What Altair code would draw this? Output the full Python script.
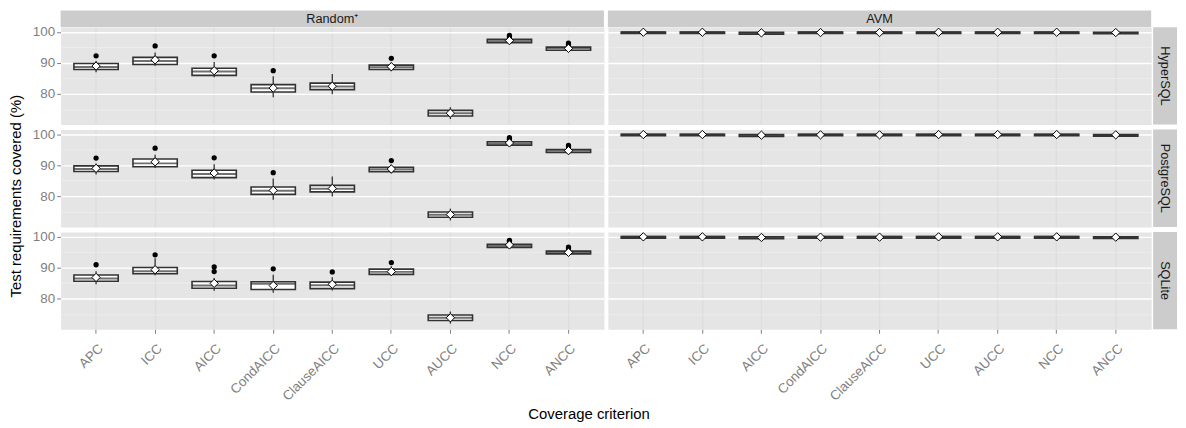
import altair as alt
import pandas as pd

criteria = ["APC", "ICC", "AICC", "CondAICC", "ClauseAICC", "UCC", "AUCC", "NCC", "ANCC"]
methods = ["Random⁺", "AVM"]
databases = ["HyperSQL", "PostgreSQL", "SQLite"]

# Random+ / HyperSQL
rh_lo = [87.0, 89.1, 85.4, 78.9, 79.9, 87.3, 71.9, 96.2, 93.8]
rh_q1 = [87.9, 89.5, 86.0, 80.6, 81.4, 87.9, 72.9, 96.5, 94.1]
rh_med = [88.7, 90.6, 87.2, 81.8, 82.4, 88.6, 73.8, 97.0, 94.7]
rh_q3 = [89.8, 91.8, 88.3, 83.0, 83.5, 89.3, 74.7, 97.6, 95.1]
rh_hi = [90.6, 93.4, 90.3, 85.7, 86.4, 90.2, 75.7, 97.9, 95.5]
rh_mean = [89.0, 91.0, 87.5, 81.9, 82.5, 88.8, 73.8, 97.2, 94.7]
rh_out_crit = ["APC", "ICC", "AICC", "CondAICC", "UCC", "NCC", "NCC", "ANCC", "ANCC"]
rh_out_val = [92.3, 95.5, 92.3, 87.5, 91.5, 98.4, 98.9, 95.9, 96.4]

# Random+ / PostgreSQL
rp_lo = [87.0, 89.1, 85.4, 78.9, 79.9, 87.3, 72.2, 96.2, 93.8]
rp_q1 = [88.0, 89.5, 86.0, 80.6, 81.4, 87.9, 73.2, 96.5, 94.1]
rp_med = [88.8, 90.6, 87.2, 81.8, 82.4, 88.6, 74.0, 97.0, 94.7]
rp_q3 = [89.8, 92.0, 88.4, 83.0, 83.5, 89.3, 74.9, 97.6, 95.1]
rp_hi = [90.6, 93.4, 90.3, 85.7, 86.4, 90.2, 76.0, 97.9, 95.5]
rp_mean = [89.0, 91.1, 87.5, 81.9, 82.5, 88.8, 74.1, 97.2, 94.7]
rp_out_crit = ["APC", "ICC", "AICC", "CondAICC", "UCC", "NCC", "NCC", "ANCC", "ANCC"]
rp_out_val = [92.3, 95.5, 92.4, 87.6, 91.5, 98.4, 98.9, 95.9, 96.4]

# Random+ / SQLite
rs_lo = [84.6, 87.5, 82.5, 81.9, 82.6, 87.3, 71.9, 96.2, 94.0]
rs_q1 = [85.6, 88.0, 83.3, 82.9, 83.2, 87.8, 72.9, 96.5, 94.4]
rs_med = [86.5, 88.8, 84.2, 84.8, 84.3, 88.6, 73.8, 97.0, 94.9]
rs_q3 = [87.6, 90.0, 85.5, 85.4, 85.3, 89.5, 74.7, 97.5, 95.3]
rs_hi = [88.8, 93.0, 86.6, 87.7, 86.9, 90.4, 75.8, 97.9, 95.7]
rs_mean = [86.8, 89.3, 84.9, 84.2, 84.6, 88.7, 73.8, 97.3, 94.9]
rs_out_crit = ["APC", "ICC", "AICC", "AICC", "CondAICC", "ClauseAICC", "UCC", "NCC", "NCC", "ANCC", "ANCC"]
rs_out_val = [90.9, 94.1, 88.7, 90.2, 89.6, 88.6, 91.6, 98.4, 98.8, 96.0, 96.6]

# AVM (same for all databases)
avm_lo = [99.5, 99.5, 99.3, 99.5, 99.5, 99.5, 99.5, 99.5, 99.4]
avm_q1 = [99.5, 99.5, 99.3, 99.5, 99.5, 99.5, 99.5, 99.5, 99.4]
avm_med = [99.9, 99.9, 99.6, 99.9, 99.9, 99.9, 99.9, 99.9, 99.7]
avm_q3 = [100.0, 100.0, 99.9, 100.0, 100.0, 100.0, 100.0, 100.0, 99.9]
avm_hi = [100.0, 100.0, 99.9, 100.0, 100.0, 100.0, 100.0, 100.0, 99.9]
avm_mean = [99.9, 99.9, 99.7, 99.8, 99.8, 99.9, 99.9, 99.9, 99.8]

box_sets = [
    ("Random⁺", "HyperSQL", rh_lo, rh_q1, rh_med, rh_q3, rh_hi, rh_mean),
    ("Random⁺", "PostgreSQL", rp_lo, rp_q1, rp_med, rp_q3, rp_hi, rp_mean),
    ("Random⁺", "SQLite", rs_lo, rs_q1, rs_med, rs_q3, rs_hi, rs_mean),
    ("AVM", "HyperSQL", avm_lo, avm_q1, avm_med, avm_q3, avm_hi, avm_mean),
    ("AVM", "PostgreSQL", avm_lo, avm_q1, avm_med, avm_q3, avm_hi, avm_mean),
    ("AVM", "SQLite", avm_lo, avm_q1, avm_med, avm_q3, avm_hi, avm_mean),
]
out_sets = [
    ("Random⁺", "HyperSQL", rh_out_crit, rh_out_val),
    ("Random⁺", "PostgreSQL", rp_out_crit, rp_out_val),
    ("Random⁺", "SQLite", rs_out_crit, rs_out_val),
]

rows = []
for m, d, lo, q1, med, q3, hi, mn in box_sets:
    for i, c in enumerate(criteria):
        rows.append(dict(kind="box", method=m, db=d, crit=c, lo=lo[i], q1=q1[i],
                         med=med[i], q3=q3[i], hi=hi[i], mean=mn[i], value=None,
                         anchor=(i == 0)))
for m, d, cs, vs in out_sets:
    for c, v in zip(cs, vs):
        rows.append(dict(kind="out", method=m, db=d, crit=c, value=v, anchor=False))
df = pd.DataFrame(rows)

W, H = 547, 98
FONT = "Liberation Sans"
major = "datum.value % 10 === 0"
DARK = "#333333"

yaxis = alt.Axis(
    title=None, values=[75, 80, 85, 90, 95, 100],
    labelExpr="datum.value % 10 === 0 ? datum.label : ''",
    gridWidth={"condition": {"test": major, "value": 1.4}, "value": 0.6},
    gridColor={"condition": {"test": major, "value": "#FFFFFF"}, "value": "#F2F2F2"},
    tickOpacity={"condition": {"test": major, "value": 1}, "value": 0},
    tickSize=4, labelPadding=2, grid=True,
)
yscale = alt.Scale(domain=[70.1, 101.5], nice=False, zero=False)
xenc = alt.X("crit:N", sort=criteria,
             scale=alt.Scale(paddingInner=0.25, paddingOuter=0.225),
             axis=alt.Axis(title=None, labelAngle=315, labelAlign="right",
                           labelBaseline="top", tickSize=4, labelPadding=8,
                           grid=True, gridWidth=1.4, bandPosition=0.5))

base = alt.Chart()
isbox = alt.datum.kind == "box"

whisk = base.transform_filter(isbox).mark_rule(color=DARK, strokeWidth=1.3).encode(
    x=xenc, y=alt.Y("lo:Q", scale=yscale, axis=yaxis), y2="hi:Q")
box = base.transform_filter(isbox).mark_bar(fill="white", stroke=DARK, strokeWidth=1.6).encode(
    x=xenc, y=alt.Y("q1:Q", scale=yscale, axis=yaxis), y2="q3:Q")
median = base.transform_filter(isbox).mark_tick(color=DARK, thickness=2, size=44.6).encode(
    x=xenc, y=alt.Y("med:Q", scale=yscale, axis=yaxis))
outl = base.transform_filter(alt.datum.kind == "out").mark_circle(color="black", size=28, opacity=1).encode(
    x=xenc, y=alt.Y("value:Q", scale=yscale, axis=yaxis))
meanpt = base.transform_filter(isbox).mark_point(shape="diamond", filled=True, fill="white",
                                                  stroke="black", strokeWidth=1, size=70, opacity=1).encode(
    x=xenc, y=alt.Y("mean:Q", scale=yscale, axis=yaxis))

top_f = "datum.anchor && datum.db === 'HyperSQL'"
right_f = "datum.anchor && datum.method === 'AVM'"
top_rect = base.transform_filter(top_f).mark_rect(color="#CCCCCC").encode(
    x=alt.value(0), x2=alt.value(W), y=alt.value(-17), y2=alt.value(0))
top_text = base.transform_filter(top_f).mark_text(font=FONT, fontSize=12.8, color="#1A1A1A",
                                                  baseline="middle").encode(
    x=alt.value(W / 2), y=alt.value(-8), text="method:N")
right_rect = base.transform_filter(right_f).mark_rect(color="#CCCCCC").encode(
    x=alt.value(W + 2), x2=alt.value(W + 26), y=alt.value(0), y2=alt.value(H))
right_text = base.transform_filter(right_f).mark_text(font=FONT, fontSize=12.8, color="#1A1A1A",
                                                      angle=90, baseline="middle").encode(
    x=alt.value(W + 14), y=alt.value(H / 2), text="db:N")
ytitle = base.transform_filter("datum.anchor && datum.method !== 'AVM' && datum.db === 'PostgreSQL'").mark_text(
    font=FONT, fontSize=15, color="black", angle=270, baseline="middle").encode(
    x=alt.value(-45), y=alt.value(67), text=alt.value("Test requirements covered (%)"))
xtitle = base.transform_filter("datum.anchor && datum.method !== 'AVM' && datum.db === 'SQLite'").mark_text(
    font=FONT, fontSize=15, color="black", baseline="middle").encode(
    x=alt.value(532), y=alt.value(183), text=alt.value("Coverage criterion"))

layered = alt.layer(whisk, box, median, outl, meanpt, top_rect, top_text,
                    right_rect, right_text, ytitle, xtitle).properties(width=W, height=H)

chart = layered.facet(
    row=alt.Row("db:N", sort=databases, header=None),
    column=alt.Column("method:N", sort=methods, header=None),
    data=df, spacing={"row": 5, "column": 4}, bounds="flush",
).properties(padding=0).configure_view(
    fill="#E5E5E5", stroke="transparent"
).configure_axis(
    domain=False, tickColor="#7F7F7F", labelColor="#7F7F7F", labelFont=FONT,
    labelFontSize=13.5,
)

chart.save("out.html", embed_options={"renderer": "svg", "actions": False})
